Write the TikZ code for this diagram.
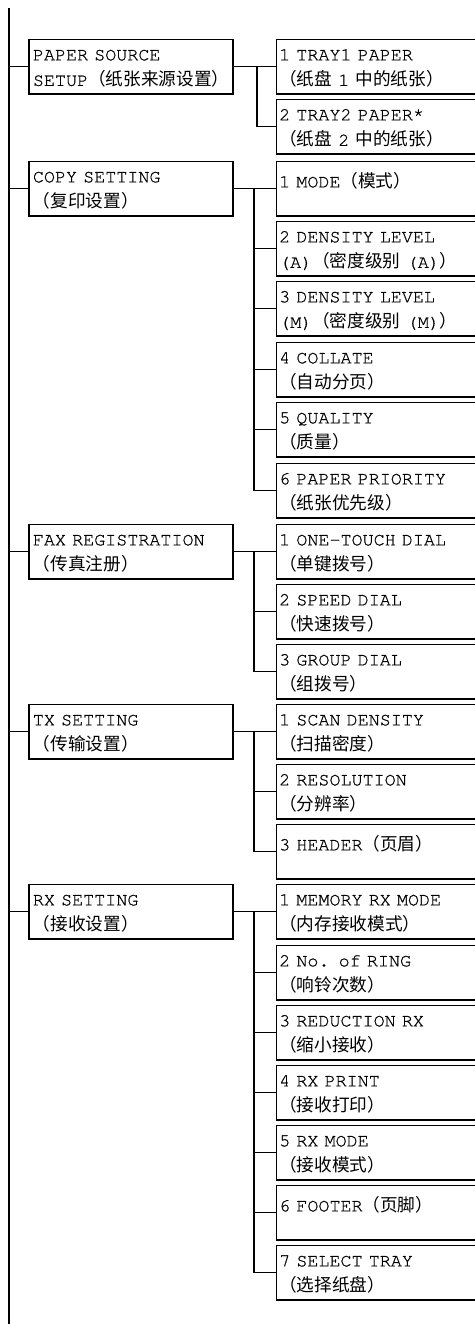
\documentclass[tikz,border=0pt]{standalone}
\usepackage{fontspec}
\newfontfamily\monofam{texgyrecursor-regular.otf}[FakeBold=0.7]
\newfontfamily\cjkfam{Noto Sans CJK SC}[Scale=0.96]
\newcommand\zh[1]{{\cjkfam #1}}
\tikzset{
  ln/.style={line width=1.4bp},
  basebox/.style={draw, ln, anchor=north west, align=left, inner ysep=0pt,
    font=\fontsize{18.4bp}{25.5bp}\selectfont\monofam,
    text height=21bp, text depth=33.6bp},
  lbox/.style={basebox, text width=196bp, inner xsep=4bp},
  rbox/.style={basebox, text width=204bp, inner xsep=3bp},
  single/.style={text height=26bp, text depth=28.6bp},
}
\begin{document}
\begin{tikzpicture}[x=1bp,y=-1bp]
\useasboundingbox (0,0) rectangle (475,1324);
\clip (0,0) rectangle (475,1324);
\coordinate (mtop) at (9,8);
\coordinate (mbot) at (9,1324);
\coordinate (ba) at (257,0);
\coordinate (bb) at (254,0);
\draw[ln] (mtop) -- (mbot);
% left boxes
\node[lbox] (L1) at (28.2,38.7)  {PAPER SOURCE\\SETUP\zh{（纸张来源设置）}};
\node[lbox] (L2) at (28.2,160.7) {COPY SETTING\\\zh{（复印设置）}};
\node[lbox] (L3) at (28.2,523.7) {FAX REGISTRATION\\\zh{（传真注册）}};
\node[lbox] (L4) at (28.2,703.7) {TX SETTING\\\zh{（传输设置）}};
\node[lbox] (L5) at (28.2,883.7) {RX SETTING\\\zh{（接收设置）}};
% right boxes
\node[rbox] (A1) at (275.5,38.7) {1 TRAY1 PAPER\\\zh{（纸盘} 1 \zh{中的纸张）}};
\node[rbox] (A2) at (275.5,98.7) {2 TRAY2 PAPER*\\\zh{（纸盘} 2 \zh{中的纸张）}};
\node[rbox,single] (C1) at (275.5,160.7) {1 MODE\zh{（模式）}};
\node[rbox] (C2) at (275.5,220.7) {2 DENSITY LEVEL\\(A)\zh{（密度级别} (A)\zh{）}};
\node[rbox] (C3) at (275.5,280.7) {3 DENSITY LEVEL\\(M)\zh{（密度级别} (M)\zh{）}};
\node[rbox] (C4) at (275.5,341.7) {4 COLLATE\\\zh{（自动分页）}};
\node[rbox] (C5) at (275.5,401.7) {5 QUALITY\\\zh{（质量）}};
\node[rbox] (C6) at (275.5,462.7) {6 PAPER PRIORITY\\\zh{（纸张优先级）}};
\node[rbox] (F1) at (275.5,523.7) {1 ONE-TOUCH DIAL\\\zh{（单键拨号）}};
\node[rbox] (F2) at (275.5,583.7) {2 SPEED DIAL\\\zh{（快速拨号）}};
\node[rbox] (F3) at (275.5,643.7) {3 GROUP DIAL\\\zh{（组拨号）}};
\node[rbox] (T1) at (275.5,703.7) {1 SCAN DENSITY\\\zh{（扫描密度）}};
\node[rbox] (T2) at (275.5,763.7) {2 RESOLUTION\\\zh{（分辨率）}};
\node[rbox,single] (T3) at (275.5,823.7) {3 HEADER\zh{（页眉）}};
\node[rbox] (X1) at (275.5,883.7) {1 MEMORY RX MODE\\\zh{（内存接收模式）}};
\node[rbox] (X2) at (275.5,944.7) {2 No. of RING\\\zh{（响铃次数）}};
\node[rbox] (X3) at (275.5,1004.7) {3 REDUCTION RX\\\zh{（缩小接收）}};
\node[rbox] (X4) at (275.5,1064.7) {4 RX PRINT\\\zh{（接收打印）}};
\node[rbox] (X5) at (275.5,1124.7) {5 RX MODE\\\zh{（接收模式）}};
\node[rbox,single] (X6) at (275.5,1184.7) {6 FOOTER\zh{（页脚）}};
\node[rbox] (X7) at (275.5,1244.7) {7 SELECT TRAY\\\zh{（选择纸盘）}};
% main connectors
\foreach \n in {L1,L2,L3,L4,L5} \draw[ln] (\n.west -| mtop) -- (\n.west);
% branch connectors
\draw[ln] (L1.east) -- (A1.west);
\draw[ln] (L1.east -| ba) |- (A2.west);
\draw[ln] (L2.east) -- (C1.west);
\foreach \c in {C2,C3,C4,C5,C6} \draw[ln] (L2.east -| bb) |- (\c.west);
\draw[ln] (L3.east) -- (F1.west);
\foreach \c in {F2,F3} \draw[ln] (L3.east -| bb) |- (\c.west);
\draw[ln] (L4.east) -- (T1.west);
\foreach \c in {T2,T3} \draw[ln] (L4.east -| bb) |- (\c.west);
\draw[ln] (L5.east) -- (X1.west);
\foreach \c in {X2,X3,X4,X5,X6,X7} \draw[ln] (L5.east -| bb) |- (\c.west);
\end{tikzpicture}
\end{document}
